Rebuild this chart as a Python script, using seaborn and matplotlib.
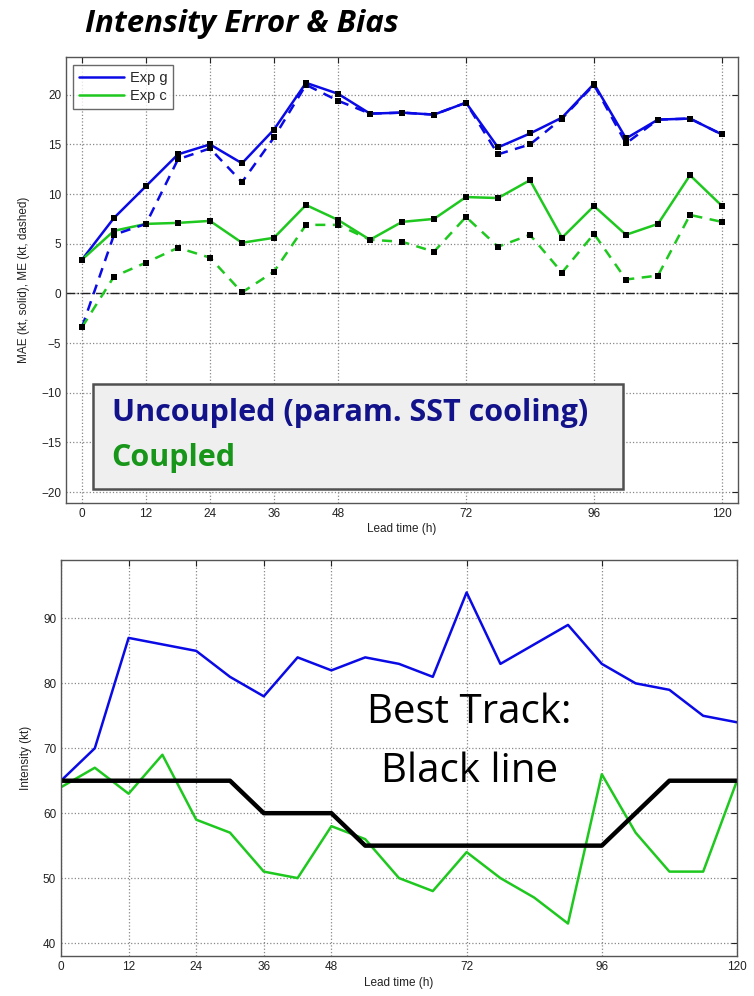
import pandas as pd
import matplotlib
matplotlib.use('Agg')
import matplotlib.pyplot as plt
import seaborn as sns
from matplotlib.patches import Rectangle

# Lead times (h)
lead = list(range(0, 121, 6))

# Top panel: MAE (solid) and ME (dashed)
g_mae = [3.4, 7.6, 10.8, 14.0, 15.0, 13.1, 16.5, 21.2, 20.1, 18.1, 18.2,
         18.0, 19.2, 14.7, 16.1, 17.7, 21.1, 15.6, 17.5, 17.6, 16.0]
g_me = [-3.4, 5.9, 7.0, 13.5, 14.6, 11.2, 15.7, 21.0, 19.4, 18.1, 18.2,
        18.0, 19.2, 14.0, 15.0, 17.6, 21.0, 15.1, 17.5, 17.6, 16.0]
c_mae = [3.4, 6.3, 7.0, 7.1, 7.3, 5.1, 5.6, 8.9, 7.4, 5.4, 7.2,
         7.5, 9.7, 9.6, 11.4, 5.6, 8.8, 5.9, 7.0, 11.9, 8.8]
c_me = [-3.4, 1.7, 3.1, 4.6, 3.6, 0.1, 2.2, 6.9, 6.9, 5.4, 5.2,
        4.2, 7.7, 4.7, 5.9, 2.1, 6.0, 1.4, 1.8, 7.9, 7.2]

# Bottom panel: intensity (kt)
g_int = [65, 70, 87, 86, 85, 81, 78, 84, 82, 84, 83,
         81, 94, 83, 86, 89, 83, 80, 79, 75, 74]
c_int = [64, 67, 63, 69, 59, 57, 51, 50, 58, 56, 50,
         48, 54, 50, 47, 43, 66, 57, 51, 51, 65]
best_track = [65, 65, 65, 65, 65, 65, 60, 60, 60, 55, 55,
              55, 55, 55, 55, 55, 55, 60, 65, 65, 65]

top_xticks = [0, 12, 24, 36, 48, 72, 96, 120]
bot_xticks = [0, 12, 24, 36, 48, 72, 96, 120]

BLUE = '#0a0ae6'
GREEN = '#1ec81e'
SLIDE_FONT = ['Open Sans', 'DejaVu Sans']

sns.set_style('white')
plt.rcParams['font.family'] = ['Liberation Sans', 'DejaVu Sans']

df = pd.DataFrame({'lead': lead, 'g_mae': g_mae, 'g_me': g_me, 'c_mae': c_mae,
                   'c_me': c_me, 'g_int': g_int, 'c_int': c_int, 'best': best_track})

fig = plt.figure(figsize=(7.54, 9.96), dpi=100)
ax1 = fig.add_axes([66 / 754, 1 - 503 / 996, 672 / 754, 446 / 996])
ax2 = fig.add_axes([61 / 754, 1 - 956 / 996, 676 / 754, 396 / 996])


def matlab_axes(ax):
    ax.grid(True, linestyle=':', color='#888888', linewidth=0.9)
    ax.tick_params(direction='in', length=4, top=True, right=True,
                   labelsize=8.5, colors='#222222', width=0.8)
    for sp in ax.spines.values():
        sp.set_visible(True)
        sp.set_color('#555555')
        sp.set_linewidth(1.0)
    ax.set_axisbelow(True)


# ---- top panel ----
ax1.axhline(0, color='#222222', linestyle='-.', linewidth=1.0, zorder=1)
sns.lineplot(data=df, x='lead', y='g_mae', ax=ax1, color=BLUE, linewidth=1.8, label='Exp g')
sns.lineplot(data=df, x='lead', y='c_mae', ax=ax1, color=GREEN, linewidth=1.8, label='Exp c')
sns.lineplot(data=df, x='lead', y='g_me', ax=ax1, color=BLUE, linewidth=1.8,
             linestyle=(0, (4, 3)), legend=False)
sns.lineplot(data=df, x='lead', y='c_me', ax=ax1, color=GREEN, linewidth=1.8,
             linestyle=(0, (4, 3)), legend=False)
for col in ['g_mae', 'g_me', 'c_mae', 'c_me']:
    sns.scatterplot(data=df, x='lead', y=col, ax=ax1, color='black', marker='s',
                    s=14, linewidth=0, zorder=5, legend=False)

ax1.set_xlim(-3, 123)
ax1.set_ylim(-21.1, 23.8)
ax1.set_xticks(top_xticks)
ax1.set_yticks(range(-20, 21, 5))
ax1.set_xlabel('Lead time (h)', fontsize=8.5, color='#222222', labelpad=2)
ax1.set_ylabel('MAE (kt, solid), ME (kt, dashed)', fontsize=8.5, color='#222222', labelpad=8)
matlab_axes(ax1)
leg = ax1.legend(loc='upper left', fontsize=10.5, frameon=True, fancybox=False,
                 handlelength=3.1, handletextpad=0.4, borderpad=0.4, labelspacing=0.3,
                 borderaxespad=0, bbox_to_anchor=(0.0104, 0.982))
leg.get_frame().set_edgecolor('#444444')
leg.get_frame().set_linewidth(1.0)

# annotation box
ax1.add_patch(Rectangle((0.040, 0.031), 0.789, 0.236, transform=ax1.transAxes,
                        facecolor='#efefef', edgecolor='#505050', linewidth=1.8, zorder=6))
ax1.text(0.068, 0.202, 'Uncoupled (param. SST cooling)', transform=ax1.transAxes,
         fontsize=22, fontweight='bold', color='#12128a', family=SLIDE_FONT,
         va='center', ha='left', zorder=7)
ax1.text(0.068, 0.101, 'Coupled', transform=ax1.transAxes,
         fontsize=22, fontweight='bold', color='#17961a', family=SLIDE_FONT,
         va='center', ha='left', zorder=7)

fig.text(85 / 754, 1 - 24 / 996, 'Intensity Error & Bias', fontsize=22.5,
         fontweight='bold', fontstyle='italic', family=SLIDE_FONT,
         va='center', ha='left', color='black')

# ---- bottom panel ----
sns.lineplot(data=df, x='lead', y='g_int', ax=ax2, color=BLUE, linewidth=1.8)
sns.lineplot(data=df, x='lead', y='c_int', ax=ax2, color=GREEN, linewidth=1.8)
sns.lineplot(data=df, x='lead', y='best', ax=ax2, color='black', linewidth=3.2)
ax2.set_xlim(0, 120)
ax2.set_ylim(38, 99)
ax2.set_xticks(bot_xticks)
ax2.set_yticks(range(40, 91, 10))
ax2.set_xlabel('Lead time (h)', fontsize=8.5, color='#222222', labelpad=3)
ax2.set_ylabel('Intensity (kt)', fontsize=8.5, color='#222222', labelpad=8)
matlab_axes(ax2)

ax2.text(0.604, 0.614, 'Best Track:', transform=ax2.transAxes, fontsize=29,
         family=SLIDE_FONT, ha='center', va='center', color='black')
ax2.text(0.604, 0.465, 'Black line', transform=ax2.transAxes, fontsize=29,
         family=SLIDE_FONT, ha='center', va='center', color='black')

fig.savefig('out.png', dpi=100)
